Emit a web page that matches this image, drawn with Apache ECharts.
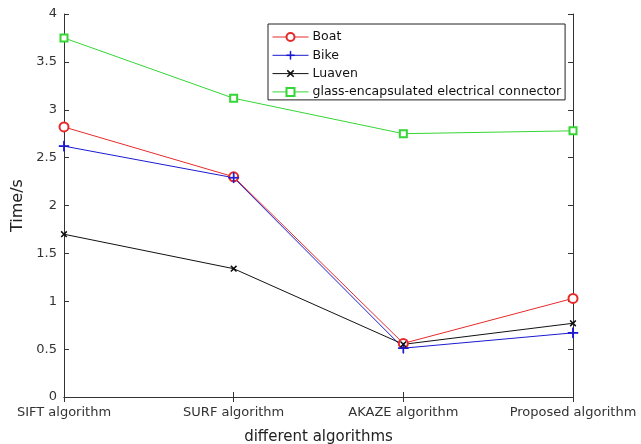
<!DOCTYPE html>
<html><head><meta charset="utf-8">
<script src="https://cdn.jsdelivr.net/npm/echarts@6/dist/echarts.min.js"></script>
<style>html,body{margin:0;padding:0;background:#fff}#c{width:641px;height:444px}</style>
</head><body><div id="c"></div>
<script>
var categories = ['SIFT algorithm', 'SURF algorithm', 'AKAZE algorithm', 'Proposed algorithm'];
var boat = [2.82, 2.30, 0.56, 1.03];
var bike = [2.62, 2.29, 0.51, 0.67];
var luaven = [1.70, 1.34, 0.55, 0.77];
var glass = [3.75, 3.12, 2.75, 2.78];
var yTicks = [0, 0.5, 1, 1.5, 2, 2.5, 3, 3.5, 4];

var plusPath = 'path://M-0.07,-1 h0.14 v0.93 h0.93 v0.14 h-0.93 v0.93 h-0.14 v-0.93 h-0.93 v-0.14 h0.93 z';
var font = 'DejaVu Sans, sans-serif';
function mk(name, data, color, symbol, size, rot) {
  return {
    name: name, type: 'line', data: data, symbol: symbol, symbolSize: size,
    symbolRotate: rot || 0, showAllSymbol: true,
    lineStyle: {color: color, width: 1}, itemStyle: {color: color, borderColor: color, borderWidth: 1},
    emphasis: {disabled: true}
  };
}
var chart = echarts.init(document.getElementById('c'));
chart.setOption({
  animation: false,
  grid: {left: 64, right: 68, top: 14, bottom: 47, show: false, outerBoundsMode: 'none', containLabel: false},
  legend: {
    orient: 'vertical', left: 268, top: 24,
    backgroundColor: '#fff', borderColor: '#222', borderWidth: 1,
    padding: [5, 4, 0, 4], itemGap: 2.3, itemWidth: 36, itemHeight: 10,
    itemStyle: {borderWidth: 1}, lineStyle: {width: 1},
    textStyle: {fontFamily: font, fontSize: 12.5, lineHeight: 16, color: '#111', padding: [0, 0, 0, -1]},
    data: ['Boat', 'Bike', 'Luaven', 'glass-encapsulated electrical connector']
  },
  xAxis: [{
    type: 'category', data: categories, boundaryGap: false,
    name: 'different algorithms', nameLocation: 'middle', nameGap: 33,
    nameTextStyle: {fontFamily: font, fontSize: 15, color: '#222'},
    axisLine: {lineStyle: {color: '#333', width: 1}},
    axisTick: {inside: true, length: 5, lineStyle: {color: '#333'}},
    axisLabel: {fontFamily: font, fontSize: 13, color: '#333', margin: 9, interval: 0},
    splitLine: {show: false}
  }, {
    type: 'category', data: categories, boundaryGap: false, position: 'top',
    axisLine: {lineStyle: {color: '#333', width: 1}},
    axisTick: {inside: true, length: 5, lineStyle: {color: '#333'}},
    axisLabel: {show: false}, splitLine: {show: false}
  }],
  yAxis: [{
    type: 'value', min: 0, max: 4, interval: 0.5,
    name: 'Time/s', nameLocation: 'middle', nameGap: 35,
    nameTextStyle: {fontFamily: font, fontSize: 16, color: '#222'},
    axisLine: {show: true, lineStyle: {color: '#333', width: 1}},
    axisTick: {show: true, inside: true, length: 5, lineStyle: {color: '#333'}},
    axisLabel: {fontFamily: font, fontSize: 13, color: '#333', margin: 7,
      formatter: function (v) { return yTicks.indexOf(v) >= 0 ? String(v) : ''; }},
    splitLine: {show: false}
  }, {
    type: 'value', min: 0, max: 4, interval: 0.5, position: 'right',
    axisLine: {show: true, lineStyle: {color: '#333', width: 1}},
    axisTick: {show: true, inside: true, length: 5, lineStyle: {color: '#333'}},
    axisLabel: {show: false}, splitLine: {show: false}
  }],
  series: [
    mk('Boat', boat, '#e62a2a', 'emptyCircle', 9),
    mk('Bike', bike, '#1a1ad0', plusPath, 10),
    mk('Luaven', luaven, '#111111', plusPath, 7, 45),
    mk('glass-encapsulated electrical connector', glass, '#33d633', 'emptyRect', 7)
  ]
});
</script></body></html>
